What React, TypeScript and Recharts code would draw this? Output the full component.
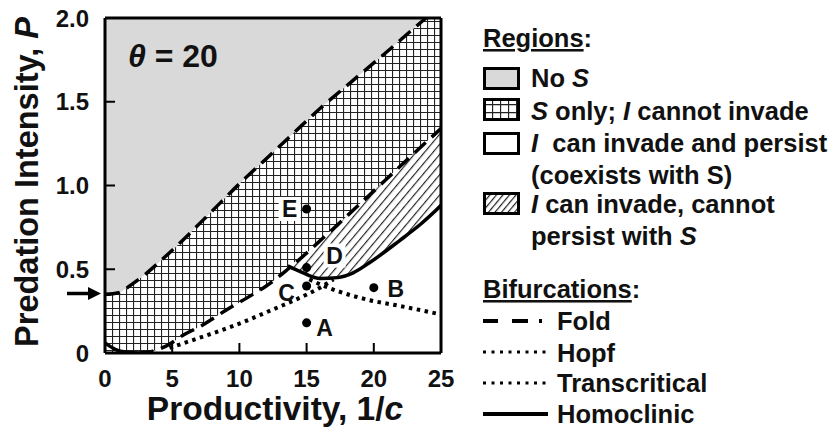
import {
  Area,
  CartesianGrid,
  ComposedChart,
  LabelList,
  Line,
  Scatter,
  XAxis,
  YAxis,
} from "recharts";

const FONT = '"Liberation Sans", Arial, Helvetica, sans-serif';

// Region boundaries / bifurcation curves, x = 1/c, y = P
const upperFold = [
  { x: 0, y: 0.35 },
  { x: 1, y: 0.36 },
  { x: 2, y: 0.41 },
  { x: 3, y: 0.47 },
  { x: 4, y: 0.54 },
  { x: 6, y: 0.69 },
  { x: 8, y: 0.85 },
  { x: 10, y: 1.01 },
  { x: 12, y: 1.16 },
  { x: 14, y: 1.31 },
  { x: 16, y: 1.46 },
  { x: 18.2, y: 1.61 },
  { x: 21, y: 1.8 },
  { x: 23.9, y: 2.0 },
  { x: 25, y: 2.07 },
];

const lowerFold = [
  { x: 2.5, y: 0.0 },
  { x: 3.5, y: 0.01 },
  { x: 4.5, y: 0.04 },
  { x: 6, y: 0.115 },
  { x: 7, y: 0.155 },
  { x: 9, y: 0.255 },
  { x: 11, y: 0.35 },
  { x: 12, y: 0.4 },
  { x: 13.6, y: 0.5 },
  { x: 14.7, y: 0.575 },
  { x: 16, y: 0.67 },
  { x: 17.3, y: 0.765 },
  { x: 18.5, y: 0.855 },
  { x: 19.7, y: 0.945 },
  { x: 21.9, y: 1.11 },
  { x: 23.5, y: 1.23 },
  { x: 25, y: 1.34 },
];

const originCurve = [
  { x: 0, y: 0.06 },
  { x: 0.8, y: 0.02 },
  { x: 1.7, y: 0.004 },
  { x: 2.5, y: 0.0 },
];

const homoclinic = [
  { x: 13.6, y: 0.52 },
  { x: 14.7, y: 0.48 },
  { x: 16, y: 0.445 },
  { x: 17.3, y: 0.45 },
  { x: 18.5, y: 0.48 },
  { x: 19.7, y: 0.54 },
  { x: 21.9, y: 0.67 },
  { x: 23.5, y: 0.77 },
  { x: 25, y: 0.88 },
];

const transcritical = [
  { x: 4.8, y: 0.03 },
  { x: 7, y: 0.09 },
  { x: 9.5, y: 0.16 },
  { x: 12.5, y: 0.26 },
  { x: 14.5, y: 0.33 },
  { x: 16, y: 0.39 },
  { x: 17, y: 0.44 },
];

const hopf = [
  { x: 15.2, y: 0.44 },
  { x: 16, y: 0.41 },
  { x: 17.3, y: 0.37 },
  { x: 19.7, y: 0.315 },
  { x: 22, y: 0.28 },
  { x: 25, y: 0.23 },
];

const points = [
  { x: 15, y: 0.18, label: "A" },
  { x: 20, y: 0.39, label: "B" },
  { x: 15, y: 0.4, label: "C" },
  { x: 15, y: 0.51, label: "D" },
  { x: 15, y: 0.86, label: "E" },
];

const xTicks = [0, 5, 10, 15, 20, 25];
const yTicks = [0, 0.5, 1.0, 1.5, 2.0];

// band between homoclinic (below) and lower fold (above)
const hatchBand = homoclinic.map((h) => {
  const f = lowerFold.find((p) => p.x === h.x);
  const top = f ? f.y : h.y;
  return { x: h.x, band: [Math.min(h.y, top), Math.max(h.y, top)] };
});

// label placement relative to each point (px)
const labelOffsets: Record<string, [number, number]> = {
  A: [18, 5],
  B: [22, 1],
  C: [-20, 7],
  D: [28, -12],
  E: [-17, 0],
};
const boxedLabels = ["D", "E"];

type Seg = [string, boolean];
const regionItems: { swatch: string; lines: Seg[][] }[] = [
  { swatch: "#d9d9d9", lines: [[["No ", false], ["S", true]]] },
  {
    swatch: "url(#legCross)",
    lines: [[["S", true], [" only; ", false], ["I", true], [" cannot invade", false]]],
  },
  {
    swatch: "#ffffff",
    lines: [
      [["I", true], ["  can invade and persist", false]],
      [["(coexists with S)", false]],
    ],
  },
  {
    swatch: "url(#legHatch)",
    lines: [
      [["I", true], [" can invade, cannot", false]],
      [["persist with ", false], ["S", true]],
    ],
  },
];

const bifurcationItems = [
  { label: "Fold", dash: "15 14 16 11 3 100", width: 4 },
  { label: "Hopf", dash: "3 5.5", width: 3 },
  { label: "Transcritical", dash: "3 5.5", width: 3 },
  { label: "Homoclinic", dash: "", width: 4 },
];

const fmtY = (v: number) => (v === 0 ? "0" : v.toFixed(1));

const tickStyle = { fontSize: 24, fontWeight: 700, fill: "#111", fontFamily: FONT };

function PointLabel(props: any) {
  const { x, y, width, height, value } = props;
  const cx = Number(x) + (Number(width) || 0) / 2;
  const cy = Number(y) + (Number(height) || 0) / 2;
  const [dx, dy] = labelOffsets[value] || [15, 0];
  const boxed = boxedLabels.includes(value);
  return (
    <g>
      {boxed && (
        <rect x={cx + dx - 11} y={cy + dy - 12} width={22} height={24} fill="#fff" />
      )}
      <text
        x={cx + dx}
        y={cy + dy + 8}
        textAnchor="middle"
        fontSize={23}
        fontWeight={700}
        fontFamily={FONT}
        fill="#111"
      >
        {value}
      </text>
    </g>
  );
}

function Legend() {
  const rowTops = [67, 98, 132, 192];
  const rowBase = [87, 120, 152, 213];
  const bifY = [321, 352, 383, 414];
  const bifBase = [330, 362, 392, 423];
  return (
    <g fontFamily={FONT} fontWeight={700} fontSize={25.5} fill="#111">
      <text x={483} y={47}>
        <tspan textDecoration="underline">Regions</tspan>:
      </text>
      {regionItems.map((item, i) => (
        <g key={i}>
          <rect
            x={484.5}
            y={rowTops[i] + 1.5}
            width={34}
            height={20}
            fill={item.swatch}
            stroke="#000"
            strokeWidth={3}
          />
          {item.lines.map((line, j) => (
            <text key={j} x={531} y={rowBase[i] + j * 32}>
              {line.map(([t, it], k) => (
                <tspan key={k} fontStyle={it ? "italic" : "normal"} style={{ whiteSpace: "pre" }}>
                  {t}
                </tspan>
              ))}
            </text>
          ))}
        </g>
      ))}
      <text x={483} y={298}>
        <tspan textDecoration="underline">Bifurcations</tspan>:
      </text>
      {bifurcationItems.map((b, i) => (
        <g key={b.label}>
          <line
            x1={483}
            x2={548}
            y1={bifY[i]}
            y2={bifY[i]}
            stroke="#000"
            strokeWidth={b.width}
            strokeDasharray={b.dash || undefined}
          />
          <text x={557} y={bifBase[i]}>
            {b.label}
          </text>
        </g>
      ))}
    </g>
  );
}

const curveLine = {
  type: "monotone" as const,
  stroke: "#000",
  strokeWidth: 3.5,
  dot: false,
  activeDot: false,
  isAnimationActive: false,
};

export default function App() {
  return (
    <div style={{ position: "relative", width: 828, height: 420, fontFamily: FONT }}>
      <div style={{ position: "absolute", left: -8, top: -8 }}>
        <ComposedChart
          width={460}
          height={428}
          margin={{ top: 16, right: 17, bottom: 5, left: 10 }}
        >
          <defs>
            <pattern id="cross" width={7} height={7} patternUnits="userSpaceOnUse">
              <rect width={7} height={7} fill="#fff" />
              <path d="M0 0.5 H7 M0.5 0 V7" stroke="#222" strokeWidth={1.2} />
            </pattern>
            <pattern
              id="hatch"
              width={6.5}
              height={6.5}
              patternUnits="userSpaceOnUse"
              patternTransform="rotate(40)"
            >
              <rect width={6.5} height={6.5} fill="#fff" />
              <line x1={0.5} y1={0} x2={0.5} y2={6.5} stroke="#222" strokeWidth={1.3} />
            </pattern>
          </defs>
          <CartesianGrid fill="#d9d9d9" horizontal={false} vertical={false} />
          <XAxis
            dataKey="x"
            type="number"
            domain={[0, 25]}
            allowDataOverflow
            ticks={xTicks}
            interval={0}
            height={70}
            tickSize={-10}
            tickMargin={27}
            tick={tickStyle}
            tickLine={{ stroke: "#000", strokeWidth: 2 }}
            axisLine={{ stroke: "#000", strokeWidth: 3 }}
          />
          <XAxis
            xAxisId="top"
            orientation="top"
            type="number"
            domain={[0, 25]}
            ticks={xTicks}
            interval={0}
            height={2}
            tickSize={-10}
            tick={false}
            tickLine={{ stroke: "#000", strokeWidth: 2 }}
            axisLine={{ stroke: "#000", strokeWidth: 3 }}
          />
          <YAxis
            type="number"
            domain={[0, 2]}
            allowDataOverflow
            ticks={yTicks}
            interval={0}
            width={95}
            tickSize={-10}
            tickMargin={26}
            tickFormatter={fmtY}
            tick={tickStyle}
            tickLine={{ stroke: "#000", strokeWidth: 2 }}
            axisLine={{ stroke: "#000", strokeWidth: 3 }}
          />
          <YAxis
            yAxisId="right"
            orientation="right"
            type="number"
            domain={[0, 2]}
            ticks={yTicks}
            interval={0}
            width={2}
            tickSize={-10}
            tick={false}
            tickLine={{ stroke: "#000", strokeWidth: 2 }}
            axisLine={{ stroke: "#000", strokeWidth: 3 }}
          />

          {/* S only region (below upper fold) */}
          <Area
            data={upperFold}
            dataKey="y"
            type="monotone"
            fill="url(#cross)"
            fillOpacity={1}
            stroke="none"
            isAnimationActive={false}
            activeDot={false}
          />
          {/* I can invade and persist (below lower fold) */}
          <Area
            data={lowerFold}
            dataKey="y"
            type="monotone"
            fill="#fff"
            fillOpacity={1}
            stroke="none"
            isAnimationActive={false}
            activeDot={false}
          />
          {/* I can invade, cannot persist */}
          <Area
            data={hatchBand}
            dataKey="band"
            type="monotone"
            fill="url(#hatch)"
            fillOpacity={1}
            stroke="none"
            isAnimationActive={false}
            activeDot={false}
          />

          <Line data={upperFold} dataKey="y" {...curveLine} strokeDasharray="15 8" />
          <Line data={lowerFold} dataKey="y" {...curveLine} strokeDasharray="15 8" />
          <Line data={originCurve} dataKey="y" {...curveLine} />
          <Line data={homoclinic} dataKey="y" {...curveLine} />
          <Line
            data={transcritical}
            dataKey="y"
            {...curveLine}
            strokeWidth={4}
            strokeDasharray="3.5 4.5"
          />
          <Line data={hopf} dataKey="y" {...curveLine} strokeWidth={4} strokeDasharray="3.5 4.5" />
          <Scatter data={points} dataKey="y" fill="#000" isAnimationActive={false}>
            <LabelList dataKey="label" content={PointLabel} />
          </Scatter>
        </ComposedChart>
      </div>

      <svg
        width={836}
        height={428}
        style={{ position: "absolute", left: -8, top: -8, pointerEvents: "none" }}
      >
        <defs>
          <pattern id="legCross" x={484} y={0} width={8} height={8} patternUnits="userSpaceOnUse">
            <rect width={8} height={8} fill="#fff" />
            <path d="M0 0.5 H8 M0.5 0 V8" stroke="#222" strokeWidth={1.3} />
          </pattern>
          <pattern
            id="legHatch"
            width={5}
            height={5}
            patternUnits="userSpaceOnUse"
            patternTransform="rotate(40)"
          >
            <rect width={5} height={5} fill="#fff" />
            <line x1={0.5} y1={0} x2={0.5} y2={5} stroke="#222" strokeWidth={1.4} />
          </pattern>
        </defs>
        {/* plot annotations */}
        <text x={128} y={67} fontFamily={FONT} fontWeight={700} fontSize={32} fill="#111">
          <tspan fontStyle="italic">θ</tspan> = 20
        </text>
        <line x1={67} y1={293.5} x2={90} y2={293.5} stroke="#000" strokeWidth={3.5} />
        <polygon points="101,293.5 88,287 88,300" fill="#000" />
        {/* axis titles */}
        <text
          x={275}
          y={420}
          textAnchor="middle"
          fontFamily={FONT}
          fontWeight={700}
          fontSize={33.5}
          fill="#111"
        >
          Productivity, 1/<tspan fontStyle="italic">c</tspan>
        </text>
        <text
          transform="translate(38,182) rotate(-90)"
          textAnchor="middle"
          fontFamily={FONT}
          fontWeight={700}
          fontSize={32.5}
          fill="#111"
        >
          Predation Intensity, <tspan fontStyle="italic">P</tspan>
        </text>
        <Legend />
      </svg>
    </div>
  );
}
